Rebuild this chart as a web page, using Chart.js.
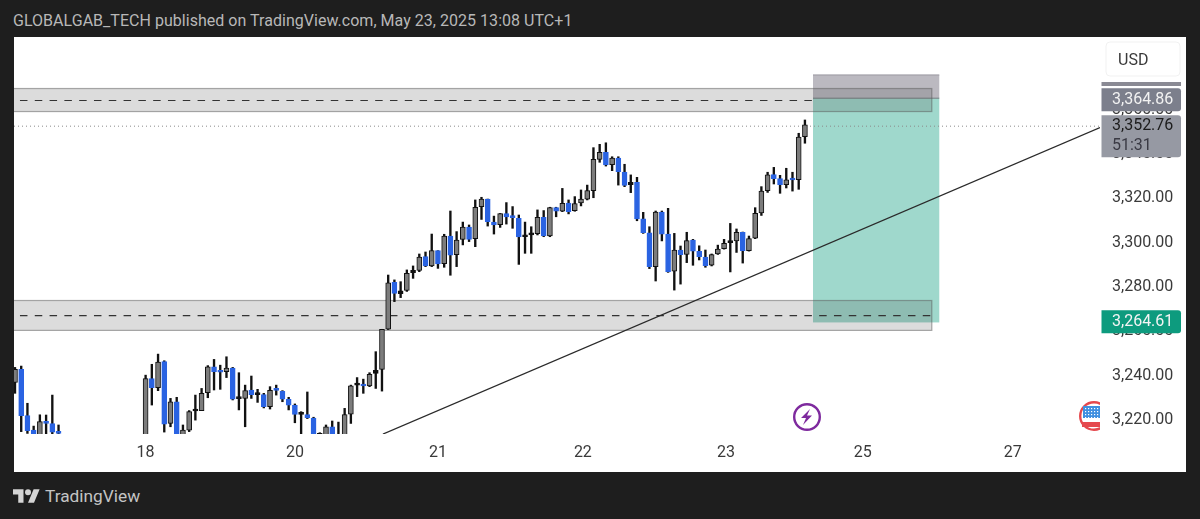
<!DOCTYPE html>
<html>
<head>
<meta charset="utf-8">
<title>GLOBALGAB_TECH XAUUSD</title>
<script src="https://cdn.jsdelivr.net/npm/chart.js@4"></script>
<style>
    html, body { margin: 0; padding: 0; width: 1200px; height: 519px; overflow: hidden; background: #1e1e1e; font-family: Roboto, sans-serif; }
    #header { position: absolute; left: 13px; top: 11px; font-size: 16px; line-height: 20px; letter-spacing: 0.03px; color: #b8b8b8; white-space: nowrap; }
    #chartBox { position: absolute; left: 14px; top: 37px; width: 1172px; height: 435px; background: #fff; }
    #footer { position: absolute; left: 13px; top: 484px; color: #c4c4c4; font-size: 17.3px; line-height: 24px; white-space: nowrap; }
    #footer svg { position: absolute; left: 0; top: 5px; }
    #footer span { position: absolute; left: 32px; top: 0; }
</style>
</head>
<body>
<div id="header">GLOBALGAB_TECH published on TradingView.com, May 23, 2025 13:08 UTC+1</div>
<div id="chartBox"><canvas id="priceChart" width="1172" height="435"></canvas></div>
<div id="footer">
    <svg width="27" height="14" viewBox="0 4 36 18"><path fill="#d4d4d4" d="M14 22H7V11H0V4h14v18zM28 22h-8l7.5-18h8L28 22z"/><circle fill="#d4d4d4" cx="20" cy="8" r="4"/></svg>
    <span>TradingView</span>
</div>
<script>
// Hourly candles. null = candle sits below the visible range
const opens = [
    3236.5, 3242.4, 3221.5, 3215.0, 3212.0, 3218.8, 3217.9, 3214.1,
    null, null, null, null, null, null, null, null, null, null, null, null, null,
    3205.0, 3238.3, 3234.1, 3245.9, 3218.0, 3227.8, 3208.0, 3215.0, 3223.6, 3223.8,
    3231.9, 3243.6, 3241.5, 3241.4, 3243.0, 3229.2, 3229.3, 3233.1, 3231.0, 3231.0,
    3225.6, 3233.4, 3232.5, 3228.9, 3226.2, 3222.1, 3222.0, 3220.4, 3208.0, 3206.0,
    3216.5, 3208.0, 3210.0, 3222.2, 3235.3, 3235.3, 3234.9, 3240.6, 3242.4, 3260.6,
    3281.7, 3276.6, 3278.1, 3286.1, 3287.1, 3293.3, 3289.1, 3296.0, 3290.1, 3302.6,
    3294.2, 3301.1, 3306.7, 3301.4, 3315.9, 3319.3, 3308.9, 3307.7, 3312.7, 3311.3,
    3310.6, 3302.3, 3303.1, 3303.7, 3311.0, 3302.6, 3315.4, 3313.8, 3317.5, 3314.1,
    3317.5, 3319.3, 3323.1, 3337.2, 3340.4, 3334.8, 3337.8, 3331.5, 3325.8, 3326.8,
    3310.4, 3304.1, 3288.8, 3313.4, 3303.5, 3286.7, 3296.3, 3294.3, 3300.8, 3295.7,
    3293.1, 3289.5, 3294.5, 3296.9, 3299.6, 3300.4, 3304.3, 3296.0, 3301.6, 3313.0,
    3323.1, 3330.3, 3328.5, 3325.8, 3328.3, 3328.0, 3347.5
];
const highs = [
    3243.3, 3243.9, 3227.1, 3216.8, 3221.9, 3221.8, 3230.8, 3217.3,
    null, null, null, null, null, null, null, null, null, null, null, null, null,
    3239.8, 3244.7, 3249.3, 3246.3, 3229.3, 3229.8, 3217.3, 3223.8, 3230.8, 3233.8,
    3244.1, 3246.9, 3244.3, 3248.1, 3243.3, 3240.9, 3235.3, 3239.4, 3233.4, 3231.6,
    3234.6, 3235.3, 3232.8, 3229.8, 3226.8, 3223.3, 3232.2, 3220.8, 3213.8, 3217.3,
    3219.1, 3218.6, 3224.8, 3235.3, 3238.7, 3238.0, 3240.9, 3250.4, 3260.5, 3285.0,
    3282.8, 3282.0, 3287.3, 3289.1, 3294.5, 3295.4, 3303.5, 3296.0, 3303.4, 3313.9,
    3304.6, 3308.9, 3307.6, 3318.9, 3320.1, 3319.3, 3311.6, 3312.8, 3317.7, 3315.9,
    3312.1, 3308.9, 3306.8, 3314.4, 3314.1, 3315.6, 3315.6, 3324.1, 3318.9, 3320.4,
    3323.4, 3325.6, 3342.5, 3344.0, 3344.7, 3338.4, 3338.4, 3335.0, 3330.2, 3329.1,
    3313.3, 3306.8, 3313.9, 3313.9, 3315.1, 3303.8, 3298.1, 3304.3, 3301.1, 3298.2,
    3296.3, 3294.5, 3298.5, 3301.1, 3308.3, 3305.8, 3304.4, 3302.6, 3315.4, 3324.9,
    3331.4, 3333.6, 3330.0, 3333.2, 3331.4, 3349.0, 3355.0
];
const lows = [
    3231.6, 3214.3, 3213.5, 3210.0, 3210.0, 3210.0, 3210.0, 3210.0,
    null, null, null, null, null, null, null, null, null, null, null, null, null,
    3203.0, 3226.3, 3232.8, 3214.1, 3216.5, 3206.0, 3206.0, 3214.3, 3219.5, 3223.8,
    3229.6, 3233.1, 3233.4, 3238.7, 3228.6, 3224.1, 3216.5, 3229.3, 3227.5, 3225.0,
    3224.5, 3230.8, 3227.8, 3224.1, 3218.3, 3210.0, 3220.2, 3206.0, 3206.0, 3204.0,
    3206.0, 3206.0, 3206.0, 3218.0, 3230.1, 3231.6, 3234.6, 3233.8, 3232.6, 3260.4,
    3273.0, 3274.8, 3277.6, 3283.5, 3286.5, 3288.8, 3288.8, 3288.0, 3288.5, 3284.9,
    3288.8, 3298.6, 3300.1, 3297.8, 3310.1, 3307.1, 3303.5, 3306.5, 3308.0, 3306.1,
    3289.8, 3294.8, 3294.8, 3303.1, 3302.3, 3302.3, 3311.3, 3313.6, 3312.6, 3313.8,
    3316.2, 3318.9, 3319.9, 3335.9, 3334.2, 3332.1, 3325.6, 3324.9, 3322.2, 3309.5,
    3303.8, 3287.9, 3282.3, 3300.4, 3286.2, 3278.2, 3280.9, 3290.6, 3289.4, 3291.8,
    3288.5, 3289.1, 3294.3, 3296.7, 3286.4, 3295.2, 3290.4, 3295.8, 3301.4, 3311.9,
    3322.3, 3326.1, 3321.9, 3324.3, 3322.9, 3323.7, 3344.5
];
const closes = [
    3242.4, 3221.5, 3214.7, 3212.0, 3218.8, 3218.0, 3214.1, 3213.5,
    null, null, null, null, null, null, null, null, null, null, null, null, null,
    3238.3, 3234.1, 3245.7, 3217.7, 3227.8, 3208.0, 3215.0, 3223.3, 3224.1, 3231.6,
    3243.6, 3241.4, 3241.1, 3243.0, 3228.9, 3229.5, 3232.8, 3231.0, 3231.4, 3225.6,
    3232.9, 3232.9, 3228.9, 3226.3, 3222.1, 3222.4, 3220.6, 3208.0, 3213.5, 3216.5,
    3208.0, 3212.5, 3222.0, 3235.0, 3235.8, 3234.9, 3240.2, 3242.0, 3260.5, 3281.5,
    3276.7, 3277.9, 3285.8, 3287.1, 3293.1, 3289.1, 3296.0, 3290.0, 3302.6, 3294.0,
    3300.8, 3306.7, 3301.1, 3315.6, 3319.3, 3309.1, 3307.6, 3312.7, 3311.2, 3310.9,
    3302.2, 3302.8, 3303.7, 3311.0, 3302.6, 3315.4, 3313.8, 3317.4, 3313.6, 3317.2,
    3319.3, 3323.1, 3337.2, 3340.4, 3334.7, 3337.8, 3331.7, 3325.5, 3326.8, 3310.3,
    3304.1, 3288.8, 3313.4, 3303.5, 3286.5, 3296.3, 3294.2, 3300.5, 3295.8, 3293.3,
    3289.2, 3294.2, 3296.7, 3299.3, 3300.2, 3304.3, 3296.0, 3301.4, 3312.8, 3322.9,
    3330.2, 3328.5, 3325.8, 3328.0, 3327.9, 3347.3, 3352.76
];

// x axis: day labels and the candle index they sit at
const dayLabels = ['18', '20', '21', '22', '23', '25', '27'];
const dayPositions = [21, 45, 68, 91.3, 114.3, 136.3, 160.4];
const priceTicks = [3220, 3240, 3260, 3280, 3300, 3320, 3340, 3360, 3380];

// drawings on the chart
const zoneUpper = [3358.8, 3369.2];
const zoneLower = [3260.0, 3273.5];
const zoneUpperMid = 3363.8;
const zoneLowerMid = 3266.7;
const zoneEnd = 147.4;
const upperMidEnd = 128.3;
const positionX = [128.3, 148.6];
const stopLevel = 3375.5;
const entryLevel = 3364.86;
const targetLevel = 3263.6;
const trendX = [59.16, 174.44];
const trendY = [3213.2, 3351.6];
const lastPrice = 3352.76;
const lastLineLevel = 3352.2;
const countdown = '51:31';
const targetTag = 3264.61;

const colors = {
    up: '#7c7c7c',
    down: '#2a63e2',
    wick: '#111',
    text: '#3a3a3a'
};

const xMin = -0.16;
const xMax = 174.44;
// tick labels sit a touch under their exact level in the picture
const tickNudge = 0.45;

const shown = opens.map((o, i) => o === null ? -1 : i).filter(i => i >= 0);

function bodyColor(i) {
    if (closes[i] < opens[i]) return colors.down;
    return Math.abs(closes[i] - opens[i]) < 1.5 ? colors.wick : colors.up;
}

function roundedTag(ctx, x, y, w, h, fill) {
    ctx.fillStyle = fill;
    ctx.beginPath();
    ctx.roundRect(x, y, w, h, [0, 3, 3, 0]);
    ctx.fill();
}

// boxes sit under the candles
const boxesPlugin = {
    id: 'boxes',
    beforeDatasetsDraw(chart) {
        const { ctx, chartArea, scales: { x, y } } = chart;
        ctx.save();
        ctx.beginPath();
        ctx.rect(chartArea.left, chartArea.top, chartArea.width, chartArea.height);
        ctx.clip();

        const left = x.getPixelForValue(positionX[0]);
        const w = x.getPixelForValue(positionX[1]) - left;
        const stopTop = y.getPixelForValue(stopLevel);
        const entry = y.getPixelForValue(entryLevel);
        const target = y.getPixelForValue(targetLevel);
        ctx.fillStyle = '#bbb9c0';
        ctx.fillRect(left, stopTop, w, entry - stopTop);
        ctx.fillStyle = '#9fd8cc';
        ctx.fillRect(left, entry, w, target - entry);
        ctx.fillStyle = '#a09ea6';
        ctx.fillRect(left, stopTop, w, 1);
        ctx.fillStyle = '#7f8a8c';
        ctx.fillRect(left, entry - 0.5, w, 1.2);

        [zoneUpper, zoneLower].forEach(zone => {
            const top = y.getPixelForValue(zone[1]);
            const bottom = y.getPixelForValue(zone[0]);
            const right = x.getPixelForValue(zoneEnd);
            ctx.fillStyle = 'rgba(70, 70, 70, 0.19)';
            ctx.fillRect(chartArea.left - 1, top, right - chartArea.left + 1, bottom - top);
            ctx.strokeStyle = 'rgba(90, 90, 90, 0.5)';
            ctx.lineWidth = 1.2;
            ctx.strokeRect(chartArea.left - 1, top, right - chartArea.left + 1, bottom - top);
        });
        ctx.restore();
    }
};

// price tags, axis box and event icons go over everything
const tagsPlugin = {
    id: 'tags',
    afterDraw(chart) {
        const { ctx, chartArea, scales: { y } } = chart;
        const tagX = chartArea.right + 1.5;
        const tagW = 79.5;
        const textX = chartArea.right + 12;

        ctx.save();
        ctx.textBaseline = 'middle';
        ctx.font = '16px Roboto';

        ctx.fillStyle = '#8a8a94';
        ctx.fillRect(tagX, 45, tagW, 4);

        const entryY = y.getPixelForValue(entryLevel);
        roundedTag(ctx, tagX, entryY - 10, tagW, 23, '#7c7f8c');
        ctx.fillStyle = '#f2f2f2';
        ctx.fillText(entryLevel.toFixed(2).replace('3', '3,'), textX, entryY + 2);

        const lastY = y.getPixelForValue(lastLineLevel);
        roundedTag(ctx, tagX, lastY - 11, tagW, 42, '#9699a3');
        ctx.fillStyle = '#1c1c1c';
        ctx.fillText(lastPrice.toFixed(2).replace('3', '3,'), textX, lastY);
        ctx.fillStyle = '#3a3a44';
        ctx.fillText(countdown, textX, lastY + 19.5);

        const targetY = y.getPixelForValue(targetTag);
        roundedTag(ctx, tagX, targetY - 10, tagW, 23, '#0d9b7e');
        ctx.fillStyle = '#f4f4f4';
        ctx.fillText(targetTag.toFixed(2).replace('3', '3,'), textX, targetY + 2);

        // currency box
        ctx.fillStyle = '#fff';
        ctx.strokeStyle = '#f1f1f1';
        ctx.lineWidth = 1;
        ctx.beginPath();
        ctx.roundRect(1092, 5, 74, 34, 4);
        ctx.fill();
        ctx.stroke();
        ctx.fillStyle = colors.text;
        ctx.fillText('USD', 1104, 23.5);

        // earnings-style bolt marker
        ctx.strokeStyle = '#7e2a9e';
        ctx.lineWidth = 2.4;
        ctx.beginPath();
        ctx.arc(793, 380, 12.8, 0, Math.PI * 2);
        ctx.stroke();
        ctx.fillStyle = '#7e2a9e';
        ctx.beginPath();
        ctx.moveTo(796, 372);
        ctx.lineTo(787, 381);
        ctx.lineTo(792, 381);
        ctx.lineTo(789, 388);
        ctx.lineTo(798, 378.5);
        ctx.lineTo(793, 378.5);
        ctx.closePath();
        ctx.fill();

        // US flag marker, cut off by the price axis
        ctx.save();
        ctx.beginPath();
        ctx.rect(chartArea.left, 340, chartArea.right - chartArea.left, 70);
        ctx.clip();
        ctx.strokeStyle = '#e5484d';
        ctx.lineWidth = 2.4;
        ctx.beginPath();
        ctx.arc(1080, 379, 13.8, 0, Math.PI * 2);
        ctx.stroke();
        ctx.fillStyle = '#3f8fe0';
        ctx.fillRect(1069, 369, 17, 12);
        ctx.fillStyle = '#e5484d';
        ctx.fillRect(1068, 385, 18, 5);
        ctx.fillStyle = '#fff';
        [371, 374, 377, 380].forEach(dotY => {
            [1071, 1074, 1077, 1080, 1083].forEach(dotX => ctx.fillRect(dotX, dotY, 1.2, 1.2));
        });
        ctx.restore();
        ctx.restore();
    }
};

new Chart(document.getElementById('priceChart').getContext('2d'), {
    data: {
        datasets: [{
            type: 'line',
            data: trendX.map((v, i) => ({ x: v, y: trendY[i] })),
            borderColor: '#2a2a2a',
            borderWidth: 1.3,
            pointRadius: 0,
            order: 1
        }, {
            type: 'line',
            data: [{ x: xMin, y: lastLineLevel }, { x: xMax, y: lastLineLevel }],
            borderColor: '#8a8a8a',
            borderWidth: 1,
            borderDash: [1, 3],
            pointRadius: 0,
            order: 5
        }, {
            type: 'line',
            data: [{ x: 0.8, y: zoneUpperMid }, { x: upperMidEnd, y: zoneUpperMid }],
            borderColor: '#333',
            borderWidth: 1.2,
            borderDash: [7.5, 7.3],
            pointRadius: 0,
            order: 4
        }, {
            type: 'line',
            data: [{ x: 0.8, y: zoneLowerMid }, { x: zoneEnd, y: zoneLowerMid }],
            borderColor: '#333',
            borderWidth: 1.2,
            borderDash: [7.5, 7.3],
            pointRadius: 0,
            order: 4
        }, {
            type: 'bar',
            data: shown.map(i => ({ x: i, y: [lows[i], highs[i]] })),
            backgroundColor: colors.wick,
            barThickness: 1.7,
            grouped: false,
            order: 3
        }, {
            type: 'bar',
            data: shown.map(i => ({ x: i, y: [opens[i], closes[i]] })),
            backgroundColor: shown.map(bodyColor),
            borderColor: shown.map(i => closes[i] < opens[i] ? colors.down : colors.wick),
            borderWidth: 1,
            borderSkipped: false,
            barThickness: 5,
            minBarLength: 2,
            grouped: false,
            order: 2
        }]
    },
    options: {
        responsive: false,
        animation: false,
        events: [],
        layout: { padding: 0 },
        plugins: {
            legend: { display: false },
            tooltip: { enabled: false }
        },
        scales: {
            x: {
                type: 'linear',
                offset: false,
                min: xMin,
                max: xMax,
                grid: { display: false, drawTicks: false },
                border: { display: false },
                afterBuildTicks: scale => { scale.ticks = dayPositions.map(v => ({ value: v })); },
                afterFit: scale => { scale.height = 38; scale.paddingLeft = 0; scale.paddingRight = 0; },
                ticks: {
                    autoSkip: false,
                    maxRotation: 0,
                    padding: 9,
                    color: colors.text,
                    font: { family: 'Roboto', size: 16 },
                    callback: (value, index) => dayLabels[index]
                }
            },
            y: {
                type: 'linear',
                position: 'right',
                min: 3213.23,
                max: 3392.46,
                grid: { display: false, drawTicks: false },
                border: { display: false },
                afterBuildTicks: scale => { scale.ticks = priceTicks.map(v => ({ value: v - tickNudge })); },
                afterFit: scale => { scale.width = 86; scale.paddingTop = 0; scale.paddingBottom = 0; },
                ticks: {
                    autoSkip: false,
                    padding: 12,
                    crossAlign: 'near',
                    color: colors.text,
                    font: { family: 'Roboto', size: 16 },
                    callback: (value, index) => priceTicks[index].toLocaleString('en-US', { minimumFractionDigits: 2 })
                }
            }
        }
    },
    plugins: [boxesPlugin, tagsPlugin]
});
</script>
</body>
</html>
